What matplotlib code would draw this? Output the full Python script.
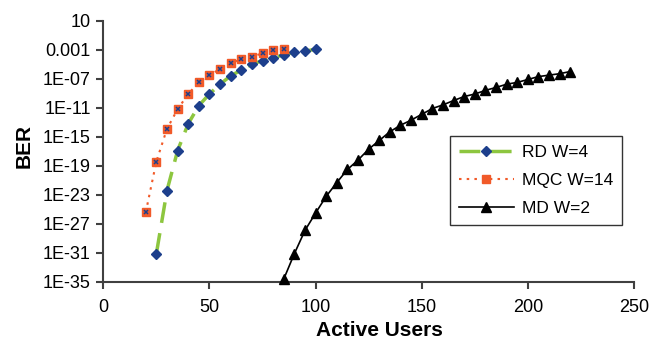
import matplotlib
matplotlib.use("Agg")
import matplotlib.pyplot as plt
from matplotlib.ticker import FixedLocator, NullLocator

plt.rcParams['font.family'] = ['Liberation Sans', 'DejaVu Sans']

# RD W=4
rd_users = [25, 30, 35, 40, 45, 50, 55, 60, 65, 70, 75, 80, 85, 90, 95, 100]
rd_log_ber = [-31.1, -22.4, -16.9, -13.2, -10.7, -9.1, -7.75, -6.6, -5.8,
              -5.0, -4.5, -4.1, -3.7, -3.35, -3.2, -2.93]

# MQC W=14
mqc_users = [20, 25, 30, 35, 40, 45, 50, 55, 60, 65, 70, 75, 80, 85]
mqc_log_ber = [-25.4, -18.4, -13.9, -11.2, -9.1, -7.5, -6.5, -5.65, -4.87,
               -4.3, -3.95, -3.5, -3.1, -2.93]

# MD W=2
md_users = [85, 90, 95, 100, 105, 110, 115, 120, 125, 130, 135, 140, 145, 150,
            155, 160, 165, 170, 175, 180, 185, 190, 195, 200, 205, 210, 215, 220]
md_log_ber = [-34.6, -31.1, -27.9, -25.5, -23.2, -21.3, -19.5, -18.2, -16.7,
              -15.5, -14.3, -13.4, -12.7, -11.9, -11.1, -10.6, -10.0, -9.45,
              -9.1, -8.6, -8.2, -7.75, -7.5, -7.1, -6.7, -6.5, -6.3, -6.0]

y_ticks = [1, -3, -7, -11, -15, -19, -23, -27, -31, -35]
y_labels = ['10', '0.001', '1E-07', '1E-11', '1E-15', '1E-19', '1E-23',
            '1E-27', '1E-31', '1E-35']
x_ticks = [0, 50, 100, 150, 200, 250]

fig = plt.figure(figsize=(6.51, 3.42), dpi=100)
ax = fig.add_axes([103.3 / 651, 1 - 282 / 342, (634 - 103.3) / 651, (282 - 20.7) / 342])

navy = '#1d3f8c'
ax.plot(rd_users, rd_log_ber, color='#8dc63f', lw=2.5, dashes=(6, 3),
        marker='D', markersize=5.5, markerfacecolor=navy, markeredgecolor=navy,
        label='RD W=4', zorder=3)
ax.plot(mqc_users, mqc_log_ber, color='#f15a29', lw=1.5, dashes=(1.2, 2.5),
        marker='s', markersize=5.3, markerfacecolor='#f15a29', markeredgecolor='#f15a29',
        label='MQC W=14', zorder=4)
ax.plot(mqc_users, mqc_log_ber, linestyle='none', marker='x', markersize=3,
        markeredgecolor=navy, markeredgewidth=1.1, zorder=5)
ax.plot(md_users, md_log_ber, color='black', lw=1.2,
        marker='^', markersize=6.5, markerfacecolor='black', markeredgecolor='black',
        label='MD W=2', zorder=3, clip_on=False)

ax.set_xlim(0, 250)
ax.set_ylim(-35, 1)
ax.xaxis.set_major_locator(FixedLocator(x_ticks))
ax.yaxis.set_major_locator(FixedLocator(y_ticks))
ax.set_yticklabels(y_labels)
ax.yaxis.set_minor_locator(NullLocator())

for side in ['top', 'right']:
    ax.spines[side].set_visible(False)
for side in ['left', 'bottom']:
    ax.spines[side].set_color('#404040')
    ax.spines[side].set_linewidth(1.5)
ax.tick_params(direction='out', length=5, width=1.5, color='#404040',
               labelsize=13)
ax.tick_params(axis='x', pad=7)
ax.tick_params(axis='y', pad=4)

ax.set_xlabel('Active Users', fontsize=15, fontweight='bold')
ax.xaxis.set_label_coords((379 - 103.3) / 530.7, -(330 - 282) / 261.3)
ax.xaxis.label.set_va('center')
ax.set_ylabel('BER', fontsize=15, fontweight='bold')
ax.yaxis.set_label_coords(-(103.3 - 24) / 530.7, 1 - (146 - 20.7) / 261.3)
ax.yaxis.label.set_va('center')

h, l = ax.get_legend_handles_labels()
leg = ax.legend(h, l, loc='upper left',
                bbox_to_anchor=((450 - 103.3) / 530.7, 1 - (136.3 - 20.7) / 261.3),
                fontsize=12.5, frameon=True, fancybox=False, edgecolor='black',
                handlelength=3.2, borderpad=0.5, labelspacing=0.75, borderaxespad=0,
                handletextpad=0.45)
leg.get_frame().set_linewidth(1.0)

fig.savefig('out.png', dpi=100)
